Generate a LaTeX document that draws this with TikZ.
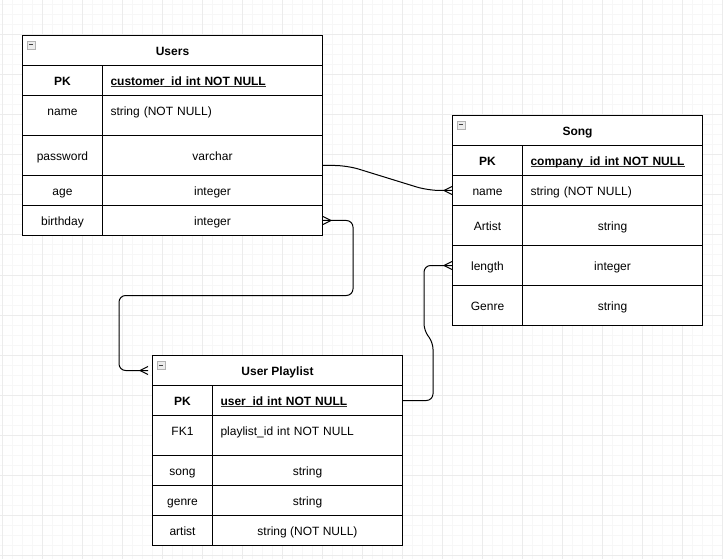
\documentclass[tikz,border=0pt]{standalone}
\usepackage{fontspec}
\setmainfont{Liberation Sans}
\usetikzlibrary{calc}
\newcommand\myul[1]{\setbox0\hbox{#1}\rlap{\color{black!80}\rule[-1.3pt]{\wd0}{0.7pt}}\box0}
\begin{document}
\begin{tikzpicture}[x=0.75pt,y=-0.75pt,
  cell/.style={draw, fill=white, line width=0.75pt, inner sep=0pt, anchor=north west,
    text height=7.4pt, text depth=0pt, font=\fontsize{9pt}{11pt}\selectfont, minimum height=22.5pt},
  tall/.style={minimum height=30pt},
  lval/.style={cell, align=left, text width=#1, inner xsep=6pt},
  conn/.style={draw, line width=0.75pt, line join=round},
  crowfoot/.pic={\draw[line width=0.75pt] (-8,0) -- (0,-4) (-8,0) -- (0,4);},
  hicon/.pic={\draw[gray!60, fill=gray!15, line width=0.6pt] (0,0) rectangle (8,8);
              \draw[black!75, line width=0.75pt] (1.8,4) -- (6.2,4);},
  minorgrid/.style={gray!6, line width=0.75pt},
  majorgrid/.style={gray!15, line width=0.75pt}
]
\useasboundingbox (0,0) rectangle (723,559);
\fill[white] (0,0) rectangle (723,559);
\foreach \x in {2,12,...,722} \draw[minorgrid] (\x,0) -- (\x,559);
\foreach \y in {5,15,...,555} \draw[minorgrid] (0,\y) -- (723,\y);
\foreach \x in {2,42,...,722} \draw[majorgrid] (\x,0) -- (\x,559);
\foreach \y in {35,75,...,555} \draw[majorgrid] (0,\y) -- (723,\y);

% ---------- Users ----------
\node[cell, minimum width=225pt] (uHead) at (22,35) {\textbf{Users}};
\pic at ([shift={(5,6)}]uHead.north west) {hicon};
\node[cell, minimum width=60pt] (uPKk) at (22,65) {\textbf{PK}};
\node[lval=153pt] (uPKv) at (102,65) {\myul{\textbf{customer\_id int NOT NULL}}};
\node[cell, tall, minimum width=60pt] (uNameK) at (22,95) {\raisebox{3.75pt}{name}};
\node[lval=153pt, tall] (uNameV) at (102,95) {\raisebox{3.75pt}{string (NOT NULL)}};
\node[cell, tall, minimum width=60pt] (uPassK) at (22,135) {password};
\node[cell, tall, minimum width=165pt] (uPassV) at (102,135) {varchar};
\node[cell, minimum width=60pt] (uAgeK) at (22,175) {age};
\node[cell, minimum width=165pt] (uAgeV) at (102,175) {integer};
\node[cell, minimum width=60pt] (uBirthK) at (22,205) {birthday};
\node[cell, minimum width=165pt] (uBirthV) at (102,205) {integer};

% ---------- Song ----------
\node[cell, minimum width=187.5pt] (sHead) at (452,115) {\textbf{Song}};
\pic at ([shift={(5,6)}]sHead.north west) {hicon};
\node[cell, minimum width=52.5pt] (sPKk) at (452,145) {\textbf{PK}};
\node[lval=123pt] (sPKv) at (522,145) {\myul{\textbf{company\_id int NOT NULL}}};
\node[cell, minimum width=52.5pt] (sNameK) at (452,175) {name};
\node[lval=123pt] (sNameV) at (522,175) {string (NOT NULL)};
\node[cell, tall, minimum width=52.5pt] (sArtK) at (452,205) {Artist};
\node[cell, tall, minimum width=135pt] (sArtV) at (522,205) {string};
\node[cell, tall, minimum width=52.5pt] (sLenK) at (452,245) {length};
\node[cell, tall, minimum width=135pt] (sLenV) at (522,245) {integer};
\node[cell, tall, minimum width=52.5pt] (sGenK) at (452,285) {Genre};
\node[cell, tall, minimum width=135pt] (sGenV) at (522,285) {string};

% ---------- User Playlist ----------
\node[cell, minimum width=187.5pt] (pHead) at (152,355) {\textbf{User Playlist}};
\pic at ([shift={(5,6)}]pHead.north west) {hicon};
\node[cell, minimum width=45pt] (pPKk) at (152,385) {\textbf{PK}};
\node[lval=130.5pt] (pPKv) at (212,385) {\myul{\textbf{user\_id int NOT NULL}}};
\node[cell, tall, minimum width=45pt] (pFKk) at (152,415) {\raisebox{3.75pt}{FK1}};
\node[lval=130.5pt, tall] (pFKv) at (212,415) {\raisebox{3.75pt}{playlist\_id int NOT NULL}};
\node[cell, minimum width=45pt] (pSongK) at (152,455) {song};
\node[cell, minimum width=142.5pt] (pSongV) at (212,455) {string};
\node[cell, minimum width=45pt] (pGenK) at (152,485) {genre};
\node[cell, minimum width=142.5pt] (pGenV) at (212,485) {string};
\node[cell, minimum width=45pt] (pArtK) at (152,515) {artist};
\node[cell, minimum width=142.5pt] (pArtV) at (212,515) {string (NOT NULL)};

% ---------- connectors ----------
\coordinate (c1s) at ([yshift=-7.5pt]uPassV.east);
\coordinate (c2e) at ([xshift=-3pt]pHead.west);

\draw[conn, rounded corners=9pt] (c1s) -- ++(24,0) -- ([xshift=-18pt]sNameK.west) -- (sNameK.west);
\pic at (sNameK.west) {crowfoot};

\draw[conn, rounded corners=5pt] (uBirthV.east) -- ++(30,0) -- ++(0,75) -- ++(-234,0) |- (c2e);
\pic[rotate=180] at (uBirthV.east) {crowfoot};
\pic at (c2e) {crowfoot};

\draw[conn, rounded corners=5pt] (pPKv.east) -- ++(30,0) -- ++(0,-58) -- ++(-9,-12) |- (sLenK.west);
\pic at (sLenK.west) {crowfoot};
\end{tikzpicture}
\end{document}
